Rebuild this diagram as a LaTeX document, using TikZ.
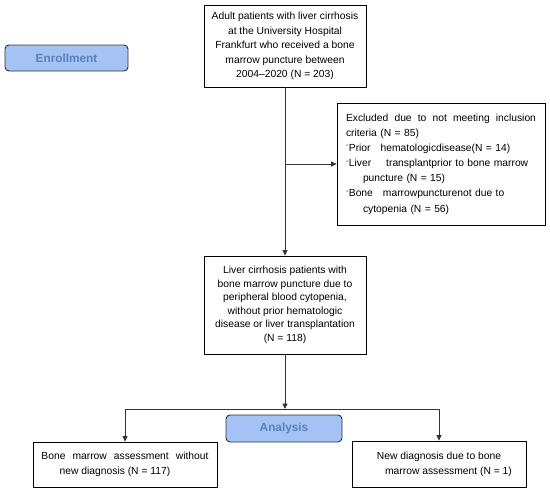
\documentclass[tikz,border=0pt]{standalone}
\usepackage{fontspec}
\setmainfont{Liberation Sans}
\usetikzlibrary{arrows.meta}
\definecolor{hdrfill}{HTML}{A4C2F4}
\definecolor{hdrtext}{HTML}{5B80B8}
\definecolor{linegray}{HTML}{333333}
\newcommand{\exdash}{\textsuperscript{-}}
\begin{document}
\begin{tikzpicture}[x=1pt,y=-1pt,
  box/.style={draw=black, line width=0.8pt, inner sep=0pt, align=center, font=\fontsize{10.3}{14.5}\selectfont},
  hdr/.style={draw=linegray, line width=0.9pt, rounded corners=4pt, fill=hdrfill, text=hdrtext, font=\fontsize{11.8}{14}\selectfont\bfseries, inner sep=0pt},
  arr/.style={draw=linegray, line width=0.8pt, -{Triangle[length=5.5pt,width=5pt]}}]
\useasboundingbox (0,0) rectangle (550,493);

\node[hdr, minimum width=123pt, minimum height=26pt] (enroll) at (66.5,58) {Enrollment};

\node[box, minimum width=162pt, minimum height=82pt] (top) at (285,46)
 {Adult patients with liver cirrhosis\\at the University Hospital\\Frankfurt who received a bone\\marrow puncture between\\2004–2020 (N = 203)};

\node[box, minimum width=208pt, minimum height=122pt, text width=190pt, align=left,
      font=\fontsize{10.3}{15.15}\selectfont] (excl) at (441,164)
 {\makebox[190pt][l]{Excluded\hfill due\hfill to\hfill not\hfill meeting\hfill inclusion}\\
  criteria (N = 85)\\
  \exdash Prior\hspace{10pt}hematologicdisease(N = 14)\\
  \exdash Liver\hspace{15pt}transplantprior to bone marrow\\
  \hspace*{17pt}puncture (N = 15)\\
  \exdash Bone\hspace{10pt}marrowpuncturenot due to\\
  \hspace*{17pt}cytopenia (N = 56)};

\node[box, minimum width=162pt, minimum height=98pt, font=\fontsize{10.3}{13.5}\selectfont] (mid) at (285,305)
 {Liver cirrhosis patients with\\bone marrow puncture due to\\peripheral blood cytopenia,\\without prior hematologic\\disease or liver transplantation\\(N = 118)};

\node[hdr, minimum width=116pt, minimum height=27pt] (analysis) at (284,428.5) {Analysis};

\node[box, minimum width=184pt, minimum height=45pt, font=\fontsize{10.3}{15}\selectfont] (lbox) at (125,464.5)
 {\makebox[167pt][l]{Bone\hfill marrow\hfill assessment\hfill without}\\new diagnosis (N = 117)\hspace*{20pt}};

\node[box, minimum width=174pt, minimum height=46pt, font=\fontsize{10.3}{15}\selectfont] (rbox) at (439,464)
 {New diagnosis due to bone\\\hspace*{19pt}marrow assessment (N = 1)};

\coordinate (split) at (285,409);

\draw[arr] (top.south) -- (mid.north);
\draw[arr] (top.south |- excl.west) -- (excl.west);
\draw[arr] (mid.south) -- (split);
\draw[arr] (split) -| (lbox.north);
\draw[arr] (split) -| (rbox.north);
\end{tikzpicture}
\end{document}
